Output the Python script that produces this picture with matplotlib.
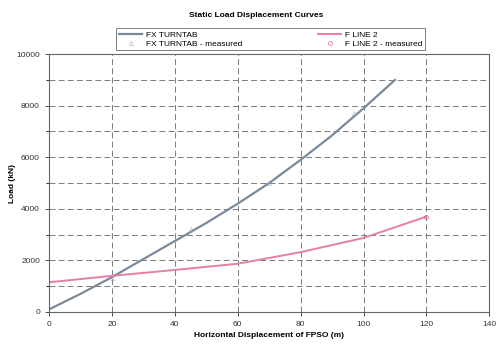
import matplotlib.pyplot as plt
from matplotlib.ticker import MultipleLocator

plt.rcParams['font.family'] = ['Liberation Sans', 'DejaVu Sans']

# data
fx_x = [0, 10, 20, 30, 40, 50, 60, 70, 80, 90, 100, 110]
fx_y = [100, 700, 1350, 2050, 2750, 3450, 4200, 5000, 5900, 6850, 7900, 9000]
fx_meas_x = [20, 45, 70, 97]
fx_meas_y = [1300, 3200, 5000, 7700]

fl_x = [0, 20, 40, 60, 80, 100, 120]
fl_y = [1150, 1400, 1630, 1870, 2320, 2870, 3700]
fl_meas_x = [120]
fl_meas_y = [3700]

fig = plt.figure(figsize=(4.97, 3.47), dpi=100)
ax = fig.add_axes([0.0986, 0.101, 0.886, 0.743])

ax.plot(fx_x, fx_y, color='#7a8a9a', lw=1.6, label='FX TURNTAB')
ax.plot(fl_x, fl_y, color='#e67fa8', lw=1.4, label='F LINE 2')
ax.plot(fx_meas_x, fx_meas_y, ls='none', marker='^', ms=3, mfc='none',
        mec='#8fa6c0', mew=0.6, alpha=0.6, label='FX TURNTAB - measured')
ax.plot(fl_meas_x, fl_meas_y, ls='none', marker='o', ms=3, mfc='none',
        mec='#d0307a', mew=0.6, alpha=0.6, label='F LINE 2 - measured')

ax.set_xlim(0, 140)
ax.set_ylim(0, 10000)
ax.xaxis.set_major_locator(MultipleLocator(20))
ax.yaxis.set_major_locator(MultipleLocator(2000))
ax.yaxis.set_minor_locator(MultipleLocator(1000))
ax.grid(True, which='both', color='#666666', ls=(0, (7, 4)), lw=0.6)
ax.tick_params(labelsize=6, length=3, width=0.6, colors='#333333')
ax.tick_params(which='minor', length=2, width=0.6)
for s in ax.spines.values():
    s.set_color('#666666')
    s.set_linewidth(0.8)

ax.set_xlabel('Horizontal Displacement of FPSO (m)', fontsize=6,
              fontweight='bold', labelpad=3)
ax.set_ylabel('Load (kN)', fontsize=6, fontweight='bold')
ax.yaxis.set_label_coords(-0.075, 0.5)

h, l = ax.get_legend_handles_labels()
order = [0, 2, 1, 3]
leg = fig.legend([h[i] for i in order], [l[i] for i in order], ncol=2,
                 loc='center', bbox_to_anchor=(0.545, 0.887), fontsize=6,
                 frameon=True, fancybox=False, edgecolor='#444444',
                 handlelength=2.8, columnspacing=9, borderpad=0.3,
                 labelspacing=0.15, handletextpad=0.5)
leg.get_frame().set_linewidth(0.6)

fig.text(0.515, 0.955, 'Static Load Displacement Curves', ha='center',
         va='center', fontsize=6, fontweight='bold')

fig.savefig('out.png', dpi=100)
